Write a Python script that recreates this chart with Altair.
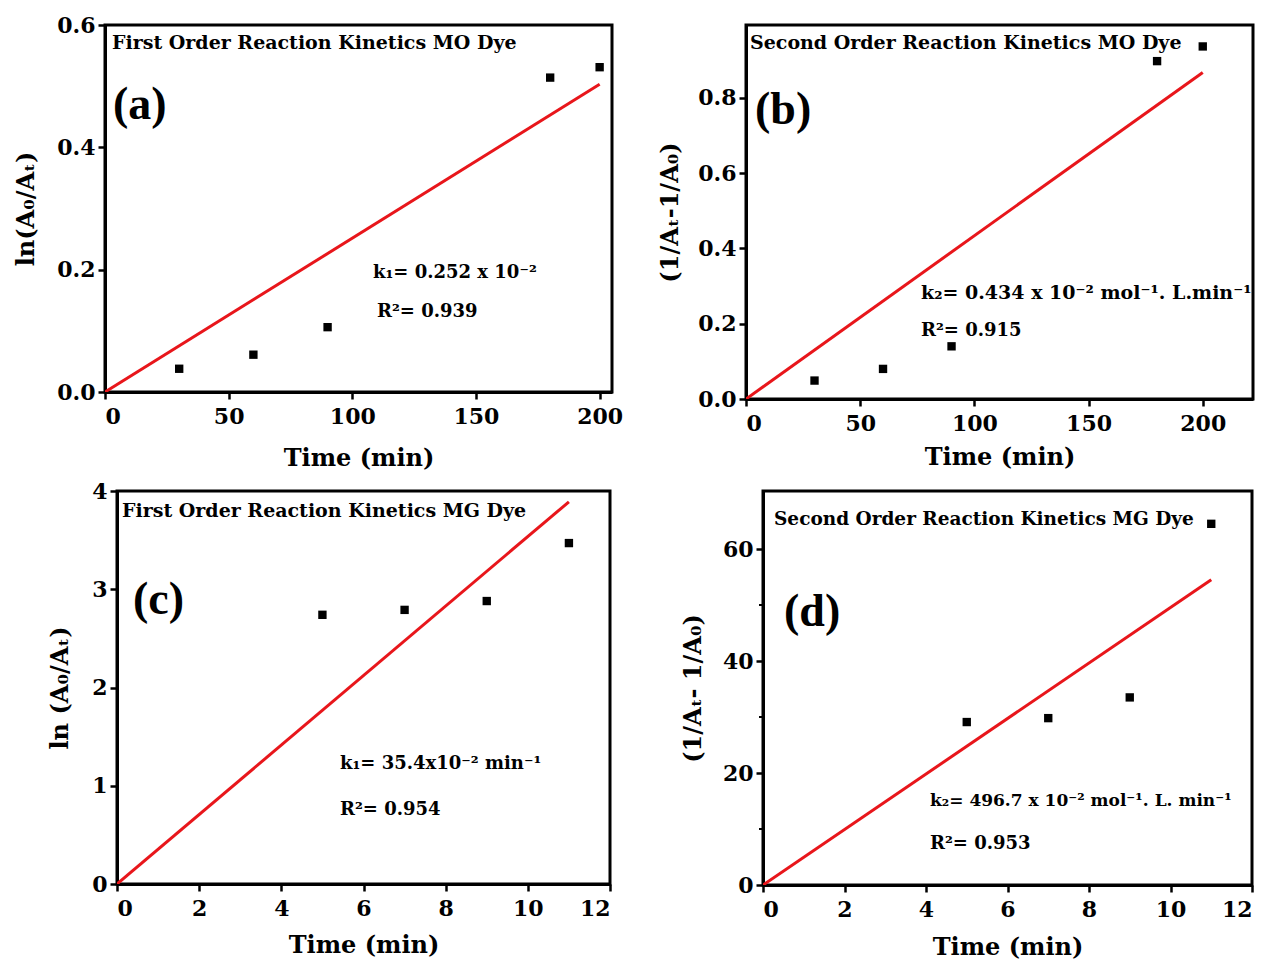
import altair as alt
import pandas as pd

# ---------------- data ----------------
# (a) first order, MO dye
a_time = [30, 60, 90, 180, 200]
a_val = [0.038, 0.061, 0.106, 0.514, 0.531]
a_fit_time = [0, 200]
a_fit_val = [0, 0.503]

# (b) second order, MO dye
b_time = [30, 60, 90, 180, 200]
b_val = [0.049, 0.080, 0.140, 0.898, 0.937]
b_fit_time = [0, 200]
b_fit_val = [0, 0.868]

# (c) first order, MG dye
c_time = [5, 7, 9, 11]
c_val = [2.74, 2.79, 2.88, 3.47]
c_fit_time = [0, 11]
c_fit_val = [0, 3.89]

# (d) second order, MG dye
d_time = [5, 7, 9, 11]
d_val = [29.1, 29.8, 33.5, 64.5]
d_fit_time = [0, 11]
d_fit_val = [0, 54.5]
d_minor = [10, 30, 50]

# tick labels
a_xticks = [0, 50, 100, 150, 200]
a_yticks = [0.0, 0.2, 0.4, 0.6]
b_xticks = [0, 50, 100, 150, 200]
b_yticks = [0.0, 0.2, 0.4, 0.6, 0.8]
c_xticks = [0, 2, 4, 6, 8, 10, 12]
c_yticks = [0, 1, 2, 3, 4]
d_xticks = [0, 2, 4, 6, 8, 10, 12]
d_yticks = [0, 20, 40, 60]

FONT = "DejaVu Serif"
LABEL_FONT = "Liberation Serif"
RED = "#e8161b"


def text_layer(txt, x, y, size, font=FONT):
    return alt.Chart(pd.DataFrame({"t": [txt]})).mark_text(
        align="left", baseline="middle", font=font, fontSize=size,
        fontWeight="bold", color="black"
    ).encode(x=alt.value(x), y=alt.value(y), text="t:N")


def panel(times, vals, fit_t, fit_v, xdom, ydom, xticks, yticks, xfmt, yfmt,
          width, height, ytitle, ytitle_pad, xtitle_pad, texts, minor=None):
    X = alt.X("time:Q", scale=alt.Scale(domain=xdom, nice=False, zero=False),
              axis=alt.Axis(values=xticks, format=xfmt, title="Time (min)",
                            titlePadding=xtitle_pad, labelPadding=7))
    Y = alt.Y("val:Q", scale=alt.Scale(domain=ydom, nice=False, zero=False),
              axis=alt.Axis(values=yticks, format=yfmt, title=ytitle,
                            titlePadding=ytitle_pad, labelPadding=3))
    pts = alt.Chart(pd.DataFrame({"time": times, "val": vals})).mark_square(
        size=70, color="black", opacity=1).encode(x=X, y=Y)
    fit = alt.Chart(pd.DataFrame({"time": fit_t, "val": fit_v})).mark_line(
        color=RED, strokeWidth=3, clip=True).encode(x=X, y=Y)
    layers = [fit, pts]
    if minor is not None:
        layers.append(
            alt.Chart(pd.DataFrame({"val": minor})).mark_rule(
                color="black", strokeWidth=2).encode(
                y=Y, x=alt.value(-4), x2=alt.value(0)))
    for (txt, x, y, size, font) in texts:
        layers.append(text_layer(txt, x, y, size, font))
    return alt.layer(*layers).properties(width=width, height=height)


pa = panel(a_time, a_val, a_fit_time, a_fit_val, [0, 205], [0, 0.6],
           a_xticks, a_yticks, "d", ".1f", 507, 367, "ln(A₀/Aₜ)", 18, 19,
           [("First Order Reaction Kinetics MO Dye", 7, 18, 19, FONT),
            ("(a)", 8, 80, 46, LABEL_FONT),
            ("k₁= 0.252 x 10⁻²", 268, 248, 18, FONT),
            ("R²= 0.939", 272, 287, 18, FONT)])

pb = panel(b_time, b_val, b_fit_time, b_fit_val, [0, 222], [0, 0.994],
           b_xticks, b_yticks, "d", ".1f", 507, 374, "(1/Aₜ-1/A₀)", 15, 11,
           [("Second Order Reaction Kinetics MO Dye", 4, 18, 19, FONT),
            ("(b)", 9, 85, 46, LABEL_FONT),
            ("k₂= 0.434 x 10⁻² mol⁻¹. L.min⁻¹", 175, 268, 19, FONT),
            ("R²= 0.915", 175, 306, 18, FONT)])

pc = panel(c_time, c_val, c_fit_time, c_fit_val, [0, 12], [0, 4],
           c_xticks, c_yticks, "d", "d", 493, 393, "ln (A₀/Aₜ)", 19, 14,
           [("First Order Reaction Kinetics MG Dye", 5, 20, 19, FONT),
            ("(c)", 16, 109, 46, LABEL_FONT),
            ("k₁= 35.4x10⁻² min⁻¹", 223, 273, 18, FONT),
            ("R²= 0.954", 223, 319, 18, FONT)])

pd_ = panel(d_time, d_val, d_fit_time, d_fit_val, [0, 12], [0, 70.36],
            d_xticks, d_yticks, "d", "d", 489, 394, "(1/Aₜ- 1/A₀)", 17, 15,
            [("Second Order Reaction Kinetics MG Dye", 11, 28, 18.5, FONT),
             ("(d)", 21, 121, 46, LABEL_FONT),
             ("k₂= 496.7 x 10⁻² mol⁻¹. L. min⁻¹", 167, 310, 17, FONT),
             ("R²= 0.953", 167, 353, 18, FONT)],
            minor=d_minor)

spacer = alt.Chart(pd.DataFrame({"time": [0], "val": [0]})).mark_point(
    opacity=0).encode(
    x=alt.X("time:Q", axis=None), y=alt.Y("val:Q", axis=None)
).properties(width=1, height=10, view=alt.ViewConfig(stroke=None))

row1 = alt.hconcat(pa, pb, spacing=32)
row2 = alt.hconcat(spacer, alt.hconcat(pc, pd_, spacing=66), spacing=-62)

chart = alt.vconcat(row1, row2, spacing=6).properties(
    padding={"left": 13, "top": 12, "right": 0, "bottom": 0},
    background="white"
).configure_view(
    stroke="black", strokeWidth=3
).configure_axis(
    labelFont=FONT, labelFontSize=22, labelFontWeight="bold", labelColor="black",
    titleFont=FONT, titleFontSize=24, titleFontWeight="bold", titleColor="black",
    domainColor="black", domainWidth=3, tickColor="black", tickWidth=2.5,
    tickSize=7, grid=False
)

chart.save("out.html", embed_options={"renderer": "svg", "actions": False})
